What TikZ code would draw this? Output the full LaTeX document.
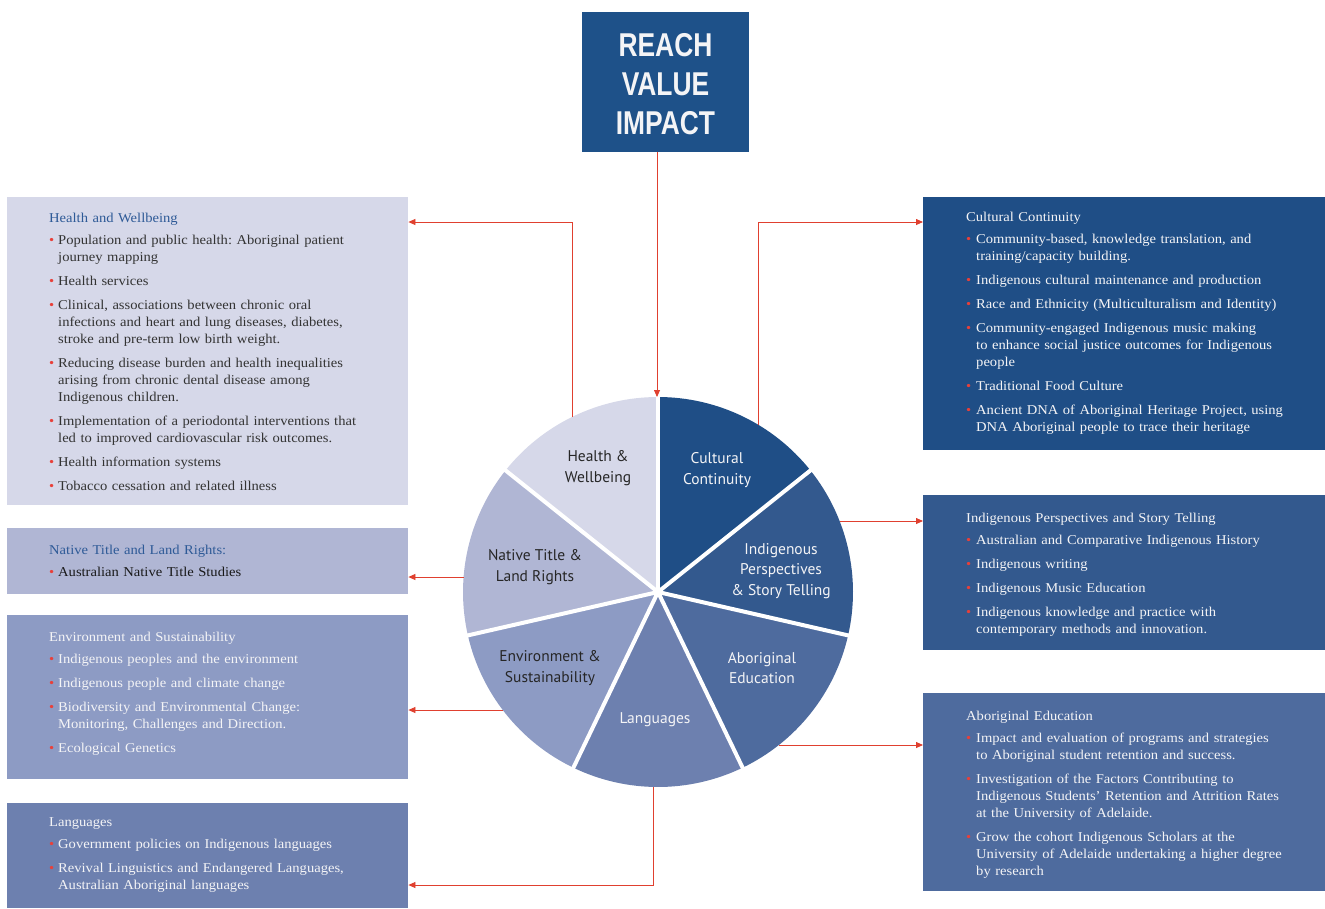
\documentclass[tikz,border=0pt]{standalone}
\usepackage{fontspec}
\setmainfont[FakeStretch=1.08]{Liberation Serif}
\newfontfamily\piefont{PT Sans}
\newfontfamily\condfont[FakeStretch=0.8]{Liberation Sans}
\usetikzlibrary{arrows.meta}
\frenchspacing

% palette
\definecolor{cReach}{HTML}{1E5189}
\definecolor{cCult}{HTML}{1F4E86}
\definecolor{cIndig}{HTML}{33598E}
\definecolor{cAbor}{HTML}{4E6B9E}
\definecolor{cLang}{HTML}{6D80AF}
\definecolor{cEnv}{HTML}{8D9BC4}
\definecolor{cNat}{HTML}{B0B6D4}
\definecolor{cHealth}{HTML}{D6D8E9}
\definecolor{headblue}{HTML}{2E5A97}
\definecolor{darktext}{HTML}{333333}
\definecolor{lighttext}{HTML}{F4F4F6}
\definecolor{bulred}{HTML}{E8403A}
\definecolor{conred}{HTML}{E0402F}

\newlength\bulw
\setlength\bulw{9pt}
\newdimen\itemdp
% bullet item: red bullet, then a top-aligned block whose extra lines hang under the text;
% optional argument = gap above the item.  The depth of the block's last line is kept
% so that the following item keeps the normal baseline distance.
\newcommand\bitem[2][7pt]{\par\vspace{#1}\noindent
  \makebox[\bulw][l]{\textcolor{bulred}{\textbullet}}%
  \parbox[t]{360pt}{\raggedright #2\par\global\itemdp=\prevdepth}\par
  \prevdepth=\itemdp}

\tikzset{
  panel/.style={rectangle, inner sep=0pt, anchor=north west, draw=none},
  paneltext/.style={anchor=north west, inner sep=0pt, text width=380pt, align=left,
    font=\fontsize{13.5}{17}\selectfont},
  pielabel/.style={align=center, font=\piefont\fontsize{15.5}{20.5}\selectfont, inner sep=0pt},
  conn/.style={draw=conred, line width=0.8pt, -{Triangle[length=7pt,width=6pt]}},
}

\begin{document}
\begin{tikzpicture}[x=1pt, y=-1pt]
\useasboundingbox (0,0) rectangle (1325,908);
\fill[white] (0,0) rectangle (1325,908);

% ---------- headline box ----------
\node[rectangle, fill=cReach, minimum width=167, minimum height=140, inner sep=0pt] (reach) at (665.5,82) {};
\node[align=center, text=lighttext, inner sep=0pt, font=\condfont\bfseries\fontsize{33}{39}\selectfont]
      (reachT) at (665.5,84) {REACH\\VALUE\\IMPACT};

% ---------- pie ----------
\begin{scope}[shift={(658,592)}, yscale=-1]
  \fill[cCult]   (0,0) -- (90:195)      arc[start angle=90,      end angle=38.571,   radius=195] -- cycle;
  \fill[cIndig]  (0,0) -- (38.571:195)  arc[start angle=38.571,  end angle=-12.857,  radius=195] -- cycle;
  \fill[cAbor]   (0,0) -- (-12.857:195) arc[start angle=-12.857, end angle=-64.286,  radius=195] -- cycle;
  \fill[cLang]   (0,0) -- (-64.286:195) arc[start angle=-64.286, end angle=-115.714, radius=195] -- cycle;
  \fill[cEnv]    (0,0) -- (-115.714:195) arc[start angle=-115.714, end angle=-167.143, radius=195] -- cycle;
  \fill[cNat]    (0,0) -- (-167.143:195) arc[start angle=-167.143, end angle=-218.571, radius=195] -- cycle;
  \fill[cHealth] (0,0) -- (141.429:195) arc[start angle=141.429, end angle=90,       radius=195] -- cycle;
  \foreach \a in {90,38.571,-12.857,-64.286,-115.714,-167.143,141.429}
    \draw[white, line width=4pt] (0,0) -- (\a:198);
\end{scope}

% pie labels
\node[pielabel, text=black!85]  (lHealth) at (598,468) {Health \&\\Wellbeing};
\node[pielabel, text=lighttext] (lCult)   at (717,470) {Cultural\\Continuity};
\node[pielabel, text=lighttext] (lIndig)  at (781,571) {Indigenous\\Perspectives\\\& Story Telling};
\node[pielabel, text=lighttext] (lAbor)   at (762,668) {Aboriginal\\Education};
\node[pielabel, text=lighttext] (lLang)   at (655,720) {Languages};
\node[pielabel, text=black!85]  (lEnv)    at (550,668) {Environment \&\\Sustainability};
\node[pielabel, text=black!85]  (lNat)    at (535,567) {Native Title \&\\Land Rights};

% connector anchors on the pie rim
\coordinate (pTop)    at (657,397);
\coordinate (pHealth) at (572,417);
\coordinate (pCult)   at (758,425);
\coordinate (pIndig)  at (840,521);
\coordinate (pAbor)   at (779,745);
\coordinate (pLang)   at (653,787);
\coordinate (pEnv)    at (503,710);
\coordinate (pNat)    at (464,577);
\coordinate (hElbow)  at (572,222);
\coordinate (cElbow)  at (758,222);
\coordinate (lElbow)  at (653,885);

% ---------- left panels ----------
\node[panel, fill=cHealth, minimum width=401, minimum height=308] (health) at (7,197) {};
\node[paneltext, text=darktext] (healthT) at (49,213) {%
  \textcolor{headblue}{Health and Wellbeing}\par
  \bitem[5pt]{Population and public health: Aboriginal patient\\journey mapping}
  \bitem{Health services}
  \bitem{Clinical, associations between chronic oral\\infections and heart and lung diseases, diabetes,\\stroke and pre-term low birth weight.}
  \bitem{Reducing disease burden and health inequalities\\arising from chronic dental disease among\\Indigenous children.}
  \bitem{Implementation of a periodontal interventions that\\led to improved cardiovascular risk outcomes.}
  \bitem{Health information systems}
  \bitem{Tobacco cessation and related illness}};

\node[panel, fill=cNat, minimum width=401, minimum height=66] (native) at (7,528) {};
\node[paneltext, text=black!90] (nativeT) at (49,545) {%
  \textcolor{headblue}{Native Title and Land Rights:}\par
  \bitem[5pt]{Australian Native Title Studies}};

\node[panel, fill=cEnv, minimum width=401, minimum height=164] (env) at (7,615) {};
\node[paneltext, text=lighttext] (envT) at (49,632) {%
  Environment and Sustainability\par
  \bitem[5pt]{Indigenous peoples and the environment}
  \bitem{Indigenous people and climate change}
  \bitem{Biodiversity and Environmental Change:\\Monitoring, Challenges and Direction.}
  \bitem{Ecological Genetics}};

\node[panel, fill=cLang, minimum width=401, minimum height=105] (lang) at (7,803) {};
\node[paneltext, text=lighttext] (langT) at (49,817) {%
  Languages\par
  \bitem[5pt]{Government policies on Indigenous languages}
  \bitem{Revival Linguistics and Endangered Languages,\\Australian Aboriginal languages}};

% ---------- right panels ----------
\node[panel, fill=cCult, minimum width=402, minimum height=253] (cult) at (923,197) {};
\node[paneltext, text=lighttext] (cultT) at (966,212) {%
  \setlength\bulw{10pt}%
  Cultural Continuity\par
  \bitem[5pt]{Community-based, knowledge translation, and\\training/capacity building.}
  \bitem{Indigenous cultural maintenance and production}
  \bitem{Race and Ethnicity (Multiculturalism and Identity)}
  \bitem{Community-engaged Indigenous music making\\to enhance social justice outcomes for Indigenous\\people}
  \bitem{Traditional Food Culture}
  \bitem{Ancient DNA of Aboriginal Heritage Project, using\\DNA Aboriginal people to trace their heritage}};

\node[panel, fill=cIndig, minimum width=402, minimum height=155] (indig) at (923,495) {};
\node[paneltext, text=lighttext] (indigT) at (966,513) {%
  \setlength\bulw{10pt}%
  Indigenous Perspectives and Story Telling\par
  \bitem[5pt]{Australian and Comparative Indigenous History}
  \bitem{Indigenous writing}
  \bitem{Indigenous Music Education}
  \bitem{Indigenous knowledge and practice with\\contemporary methods and innovation.}};

\node[panel, fill=cAbor, minimum width=402, minimum height=198] (abor) at (923,693) {};
\node[paneltext, text=lighttext] (aborT) at (966,711) {%
  \setlength\bulw{10pt}%
  Aboriginal Education\par
  \bitem[5pt]{Impact and evaluation of programs and strategies\\to Aboriginal student retention and success.}
  \bitem{Investigation of the Factors Contributing to\\Indigenous Students’ Retention and Attrition Rates\\at the University of Adelaide.}
  \bitem{Grow the cohort Indigenous Scholars at the\\University of Adelaide undertaking a higher degree\\by research}};

% ---------- connectors ----------
\draw[conn] (pTop |- reach.south) -- (pTop);
\draw[conn] (pHealth) -- (hElbow) -- (hElbow -| health.east);
\draw[conn] (pNat) -- (pNat -| native.east);
\draw[conn] (pEnv) -- (pEnv -| env.east);
\draw[conn] (pLang) -- (lElbow) -- (lElbow -| lang.east);
\draw[conn] (pCult) -- (cElbow) -- (cElbow -| cult.west);
\draw[conn] (pIndig) -- (pIndig -| indig.west);
\draw[conn] (pAbor) -- (pAbor -| abor.west);
\end{tikzpicture}
\end{document}
